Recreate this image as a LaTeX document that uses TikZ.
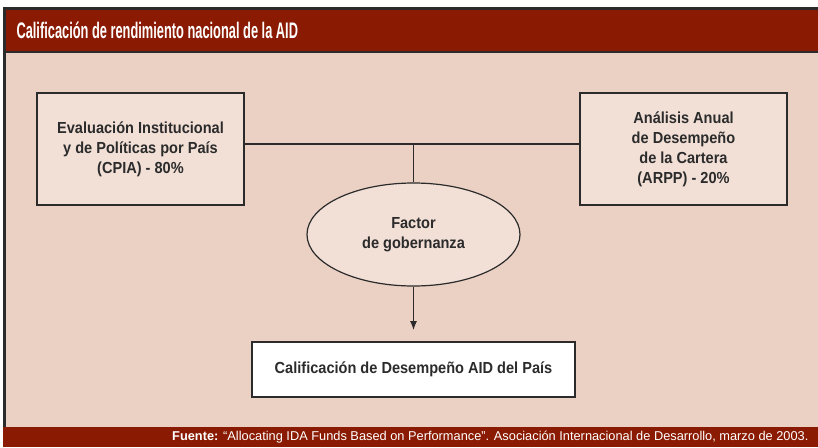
\documentclass[tikz,border=0pt]{standalone}
\usepackage{fontspec}
\setmainfont{Liberation Sans}[FakeStretch=0.91]
\newfontfamily\titlefont{Liberation Sans}[FakeStretch=0.57]
\newfontfamily\notefont{Liberation Sans}
\usetikzlibrary{shapes.geometric,arrows.meta}
\definecolor{barred}{HTML}{8A1B02}
\definecolor{panel}{HTML}{EBD0C4}
\definecolor{boxfill}{HTML}{F2E0D7}
\definecolor{edge}{HTML}{2B2B2B}

\tikzset{
  caja/.style={draw=edge, line width=1.2, fill=boxfill, text=edge, align=center,
    font=\bfseries\fontsize{16}{20}\selectfont, inner sep=0},
  linea/.style={draw=edge, line width=1.1},
}

\begin{document}
\begin{tikzpicture}[x=1pt,y=-1pt]
\useasboundingbox (0,0) rectangle (818,447);
\fill[barred] (3,7) rectangle (818,52);
\fill[panel] (3,52) rectangle (818,427);
\fill[barred] (3,427) rectangle (818,447);
\draw[edge,line width=3] (4.5,427) -- (4.5,8.5) -- (818,8.5);
\draw[edge,line width=2] (3,52) -- (818,52);
\node[anchor=west, text=white, font=\titlefont\bfseries\fontsize{22.5}{24}\selectfont] (titulo) at (13,30) {Calificación de rendimiento nacional de la AID};

\node[caja, minimum width=207, minimum height=112] (cpia) at (140.5,149) {Evaluación Institucional\\y de Políticas por País\\(CPIA) - 80\%};
\node[caja, minimum width=207, minimum height=112] (arpp) at (683.5,149) {Análisis Anual\\de Desempeño\\de la Cartera\\(ARPP) - 20\%};
\node[caja, ellipse, minimum width=213, minimum height=103] (gob) at (413.5,234.5) {Factor\\de gobernanza};
\node[caja, fill=white, minimum width=323, minimum height=55] (calif) at (413.5,369.5) {Calificación de Desempeño AID del País};

\coordinate (union) at (413.5,144);
\coordinate (flecha) at (413.5,330);
\draw[linea] (cpia.east |- union) -- (arpp.west |- union);
\draw[linea] (union) -- (gob.north);
\draw[linea, -{Latex[length=9,width=7]}] (gob.south) -- (flecha);

\node[anchor=east, text=white, font=\notefont\fontsize{12.8}{14}\selectfont] (fuente) at (812,437.5) {\textbf{Fuente:} “Allocating IDA Funds Based on Performance”. Asociación Internacional de Desarrollo, marzo de 2003.};
\end{tikzpicture}
\end{document}
